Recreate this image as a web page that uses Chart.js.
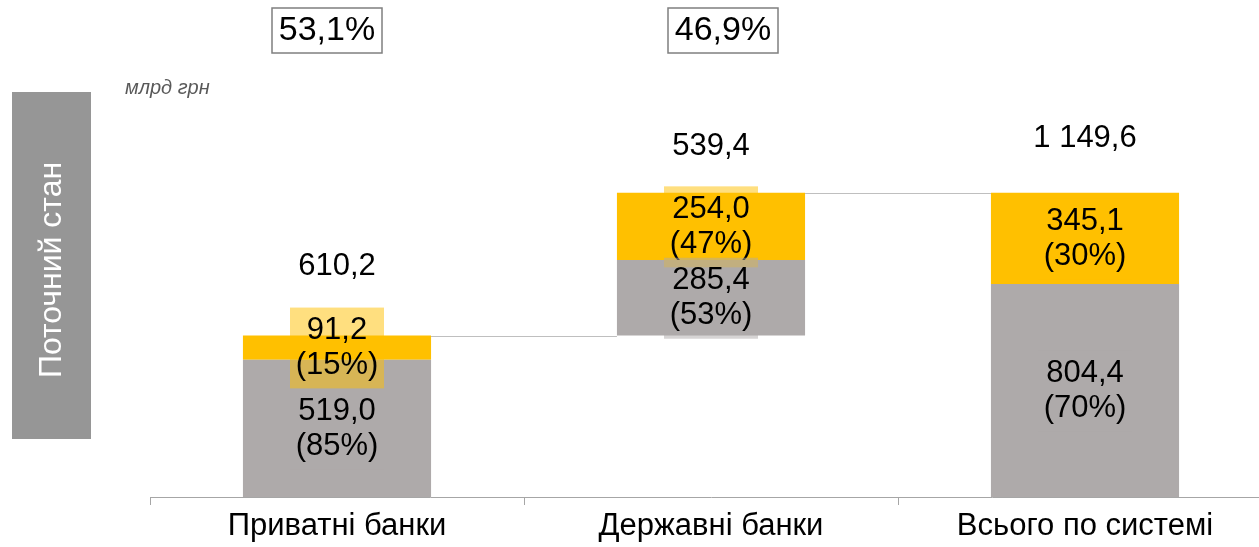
<!DOCTYPE html>
<html>
<head>
<meta charset="utf-8">
<script src="https://cdn.jsdelivr.net/npm/chart.js@4.4.0/dist/chart.umd.min.js"></script>
<style>
body { margin: 0; background: #fff; overflow: hidden; }
#wrap { position: relative; width: 1272px; height: 547px; }
</style>
</head>
<body>
<div id="wrap"><canvas id="myChart"></canvas></div>
<script>
const categories = ['Приватні банки', 'Державні банки', 'Всього по системі']
const baseValues = [0, 610.2, 0]          // where each bar starts (waterfall)
const grayValues = [519.0, 285.4, 804.4]
const yellowValues = [91.2, 254.0, 345.1]
const totalValues = [610.2, 539.4, 1149.6]
const grayShares = [85, 53, 70]
const yellowShares = [15, 47, 30]
const marketShares = ['53,1%', '46,9%']
const unitLabel = 'млрд грн'
const sideTitle = 'Поточний стан'

const GRAY = '#AEAAAA'
const YELLOW = '#FFC000'
const FONT = "'Liberation Sans', Arial, sans-serif"

function fmt(v) {
  let s = v.toFixed(1).split('.')
  let intPart = s[0].replace(/\B(?=(\d{3})+(?!\d))/g, ' ')
  return intPart + ',' + s[1]
}

const grayData = categories.map((c, i) => [baseValues[i], baseValues[i] + grayValues[i]])
const yellowData = categories.map((c, i) => [baseValues[i] + grayValues[i], baseValues[i] + totalValues[i]])

const labelsPlugin = {
  id: 'labelsPlugin',
  beforeDatasetsDraw(chart) {
    const ctx = chart.ctx
    const y = chart.scales.y
    const bars = chart.getDatasetMeta(0).data
    ctx.save()
    // side box
    ctx.fillStyle = '#969696'
    ctx.fillRect(12, 92, 79, 347)
    ctx.translate(52, 270)
    ctx.rotate(-Math.PI / 2)
    ctx.fillStyle = '#fff'
    ctx.font = '32px ' + FONT
    ctx.textAlign = 'center'
    ctx.textBaseline = 'middle'
    ctx.fillText(sideTitle, 0, 0)
    ctx.restore()

    ctx.save()
    ctx.fillStyle = '#595959'
    ctx.font = 'italic 20px ' + FONT
    ctx.textBaseline = 'middle'
    ctx.fillText(unitLabel, 125, 88)
    ctx.restore()

    // connector lines
    ctx.save()
    ctx.strokeStyle = '#BFBFBF'
    ctx.lineWidth = 1
    for (let i = 0; i < bars.length - 1; i++) {
      const yy = Math.round(y.getPixelForValue(baseValues[i] + totalValues[i])) + 0.5
      ctx.beginPath()
      ctx.moveTo(bars[i].x + bars[i].width / 2, yy)
      ctx.lineTo(bars[i + 1].x - bars[i + 1].width / 2, yy)
      ctx.stroke()
    }
    ctx.restore()
  },
  afterDatasetsDraw(chart) {
    const ctx = chart.ctx
    const y = chart.scales.y
    const segs = [
      { meta: chart.getDatasetMeta(1), vals: yellowValues, shares: yellowShares, bg: 'rgba(255,192,0,0.5)' },
      { meta: chart.getDatasetMeta(0), vals: grayValues, shares: grayShares, bg: 'rgba(174,170,170,0.5)' }
    ]
    ctx.save()
    ctx.textAlign = 'center'
    ctx.textBaseline = 'middle'
    ctx.font = '31px ' + FONT
    segs.forEach(s => {
      s.meta.data.forEach((el, i) => {
        const cy = (el.y + el.base) / 2
        ctx.fillStyle = s.bg
        ctx.fillRect(el.x - 47, cy - 40, 94, 81)
        ctx.fillStyle = '#000'
        ctx.fillText(fmt(s.vals[i]), el.x, cy - 17)
        ctx.fillText('(' + s.shares[i] + '%)', el.x, cy + 18)
      })
    })

    // totals above bars
    const bars = chart.getDatasetMeta(1).data
    const totalOffsets = [69, 46, 54]
    bars.forEach((el, i) => {
      const top = y.getPixelForValue(baseValues[i] + totalValues[i])
      ctx.fillText(fmt(totalValues[i]), el.x, top - totalOffsets[i])
    })

    // market share boxes
    const shareOffsets = [-10, 12]
    ctx.font = '34px ' + FONT
    marketShares.forEach((t, i) => {
      const cx = bars[i].x + shareOffsets[i]
      ctx.fillStyle = '#fff'
      ctx.strokeStyle = '#7F7F7F'
      ctx.lineWidth = 1.5
      ctx.fillRect(cx - 55, 8, 110, 45)
      ctx.strokeRect(cx - 55, 8, 110, 45)
      ctx.fillStyle = '#000'
      ctx.fillText(t, cx, 31)
    })
    ctx.restore()
  }
}

const ctx = document.getElementById('myChart').getContext('2d')

const config = {
  type: 'bar',
  data: {
    labels: categories,
    datasets: [
      { label: 'gray', data: grayData, backgroundColor: GRAY, borderWidth: 0, barPercentage: 0.503, categoryPercentage: 1 },
      { label: 'yellow', data: yellowData, backgroundColor: YELLOW, borderWidth: 0, barPercentage: 0.503, categoryPercentage: 1 }
    ]
  },
  options: {
    responsive: true,
    maintainAspectRatio: false,
    animation: false,
    layout: { padding: { left: 150, top: 100, right: 0, bottom: 0 } },
    plugins: { legend: { display: false }, tooltip: { enabled: false } },
    scales: {
      x: {
        stacked: true,
        grid: { drawOnChartArea: false, drawTicks: true, tickLength: 8, color: '#A6A6A6' },
        border: { display: true, color: '#A6A6A6', width: 1 },
        ticks: { color: '#000', font: { family: FONT, size: 31 }, padding: 3, maxRotation: 0 },
        afterFit(scale) { scale.height = 50 }
      },
      y: {
        display: false,
        min: 0,
        max: 1500
      }
    }
  },
  plugins: [labelsPlugin]
}

const myChart = new Chart(ctx, config)
</script>
</body>
</html>
